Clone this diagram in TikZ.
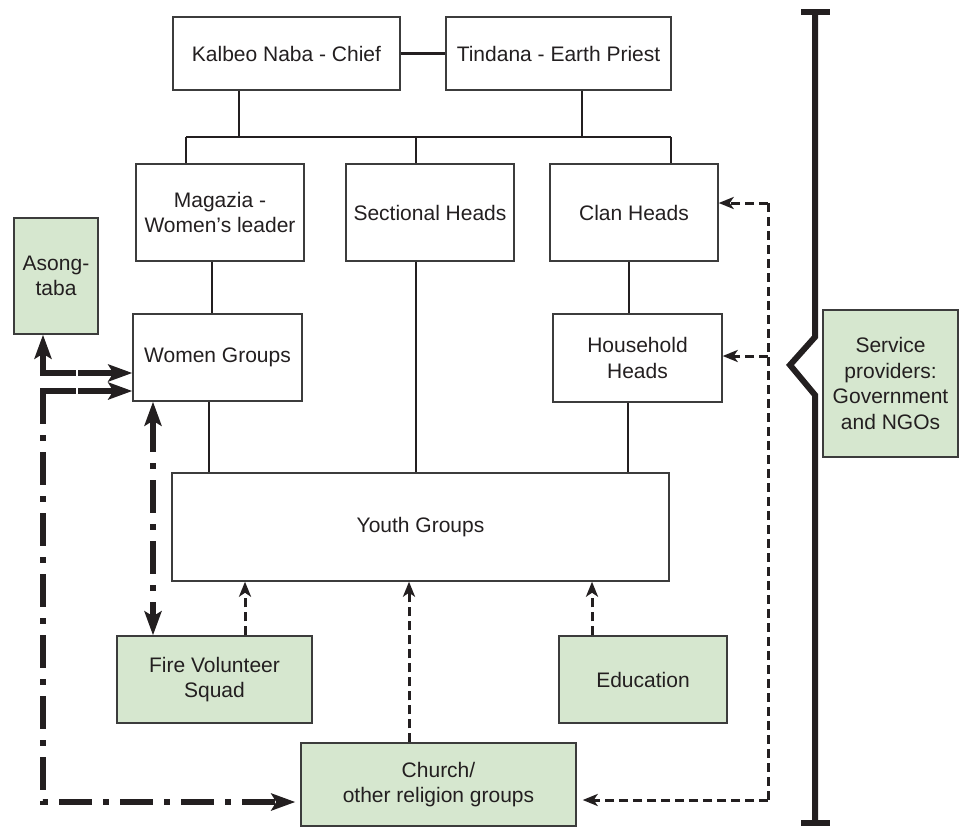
\documentclass[tikz,border=0pt]{standalone}
\usepackage{fontspec}
\setmainfont{Liberation Sans}
\usetikzlibrary{arrows.meta}
\definecolor{boxgreen}{RGB}{214,231,207}
\definecolor{ink}{RGB}{35,31,32}
\definecolor{edge}{RGB}{60,60,60}
\begin{document}
\begin{tikzpicture}[x=1pt,y=-1pt,
  box/.style={draw=edge, line width=1.4pt, fill=white, text=ink, align=center,
    inner sep=0pt, font=\fontsize{21}{25.5}\selectfont},
  gbox/.style={box, fill=boxgreen},
  link/.style={draw=ink, line width=2.5pt},
  smalltip/.tip={Stealth[length=15pt,width=12pt,inset=4pt]},
  bigtip/.tip={Stealth[length=24pt,width=17pt,inset=5pt]},
  dashline/.style={draw=ink, line width=3pt, dash pattern=on 9pt off 5pt},
  dasharrow/.style={dashline, -smalltip},
  thk/.style={draw=ink, line width=6pt},
  dashdot/.style={thk, dash pattern=on 33pt off 11pt on 6pt off 11pt}
]
\useasboundingbox (0,0) rectangle (968,827);

% nodes
\node[box, minimum width=227pt, minimum height=73pt] (kal) at (286.5,53.5) {Kalbeo Naba - Chief};
\node[box, minimum width=225pt, minimum height=73pt] (tin) at (558.5,53.5) {Tindana - Earth Priest};
\node[box, minimum width=168pt, minimum height=97pt] (mag) at (220,212.5) {Magazia -\\Women’s leader};
\node[box, minimum width=168pt, minimum height=97pt] (sec) at (430,212.5) {Sectional Heads};
\node[box, minimum width=168pt, minimum height=97pt] (clan) at (634,212.5) {Clan Heads};
\node[gbox, minimum width=84pt, minimum height=116pt] (asong) at (56,276) {Asong-\\taba};
\node[box, minimum width=169pt, minimum height=87pt] (women) at (217.5,357.5) {Women Groups};
\node[box, minimum width=169pt, minimum height=88pt] (hh) at (637.5,358) {Household\\Heads};
\node[box, minimum width=497pt, minimum height=108pt] (youth) at (420.5,527) {Youth Groups};
\node[gbox, minimum width=195pt, minimum height=87pt] (fire) at (214.5,679.5) {Fire Volunteer\\Squad};
\node[gbox, minimum width=168pt, minimum height=87pt] (edu) at (643,679.5) {Education};
\node[gbox, minimum width=275pt, minimum height=83pt] (church) at (438.5,784.5) {Church/\\other religion groups};
\node[gbox, minimum width=135pt, minimum height=147pt] (sp) at (890.5,383.5) {Service\\providers:\\Government\\and NGOs};

% hierarchy connectors
\coordinate (kd) at (239,137);
\coordinate (td) at (582,137);
\coordinate (bL) at (186,137);
\coordinate (bM) at (416,137);
\coordinate (bR) at (671,137);
\coordinate (w1) at (212,0);
\coordinate (w2) at (209,0);
\coordinate (h1) at (629,0);
\coordinate (h2) at (628,0);
\draw[link] (kal.east) -- (tin.west);
\draw[link] (kal.south -| kd) -- (kd);
\draw[link] (tin.south -| td) -- (td);
\draw[link] (bL) -- (bR);
\draw[link] (bL) -- (mag.north -| bL);
\draw[link] (bM) -- (sec.north -| bM);
\draw[link] (bR) -- (clan.north -| bR);
\draw[link] (mag.south -| w1) -- (women.north -| w1);
\draw[link] (women.south -| w2) -- (youth.north -| w2);
\draw[link] (sec.south -| bM) -- (youth.north -| bM);
\draw[link] (clan.south -| h1) -- (hh.north -| h1);
\draw[link] (hh.south -| h2) -- (youth.north -| h2);

% dashed arrows into youth
\coordinate (fa) at (245,0);
\coordinate (ca) at (409,0);
\coordinate (ea) at (592,0);
\draw[dasharrow] (fire.north -| fa) -- (youth.south -| fa);
\draw[dasharrow] (church.north -| ca) -- (youth.south -| ca);
\draw[dasharrow] (edu.north -| ea) -- (youth.south -| ea);

% service providers dashed lines
\coordinate (sv1) at (768,203);
\coordinate (sv3) at (768,356);
\coordinate (sv2) at (768,800);
\draw[dashline] (sv1) -- (sv2);
\draw[dasharrow] (sv1) -- (clan.east |- sv1);
\draw[dasharrow] (sv3) -- (hh.east |- sv3);
\draw[dasharrow, shorten >=6pt] (sv2) -- (church.east |- sv2);

% thick connectors on the left
\coordinate (a1) at (43,0);
\coordinate (a1c) at (43,373);
\coordinate (a2s) at (40,391);
\coordinate (a2c) at (43,391);
\coordinate (a3c) at (43,802);
\coordinate (fw) at (153,0);
\draw[thk, bigtip-bigtip] (asong.south -| a1) -- (a1c) -- (women.west |- a1c);
\draw[thk, -bigtip] (a2s) -- (women.west |- a2c);
\draw[dashdot, -bigtip, shorten >=5pt] (a2c) -- (a3c) -- (church.west |- a3c);
\draw[dashdot, bigtip-bigtip] (women.south -| fw) -- (fire.north -| fw);
\draw[white, line width=2pt] (77,368) -- (77,378) (77,386) -- (77,396);

% bracket
\draw[thk] (801,12) -- (830,12);
\draw[thk] (815,12) -- (815,337) -- (790,365) -- (815,395) -- (815,823);
\draw[thk] (801,823) -- (830,823);
\end{tikzpicture}
\end{document}
